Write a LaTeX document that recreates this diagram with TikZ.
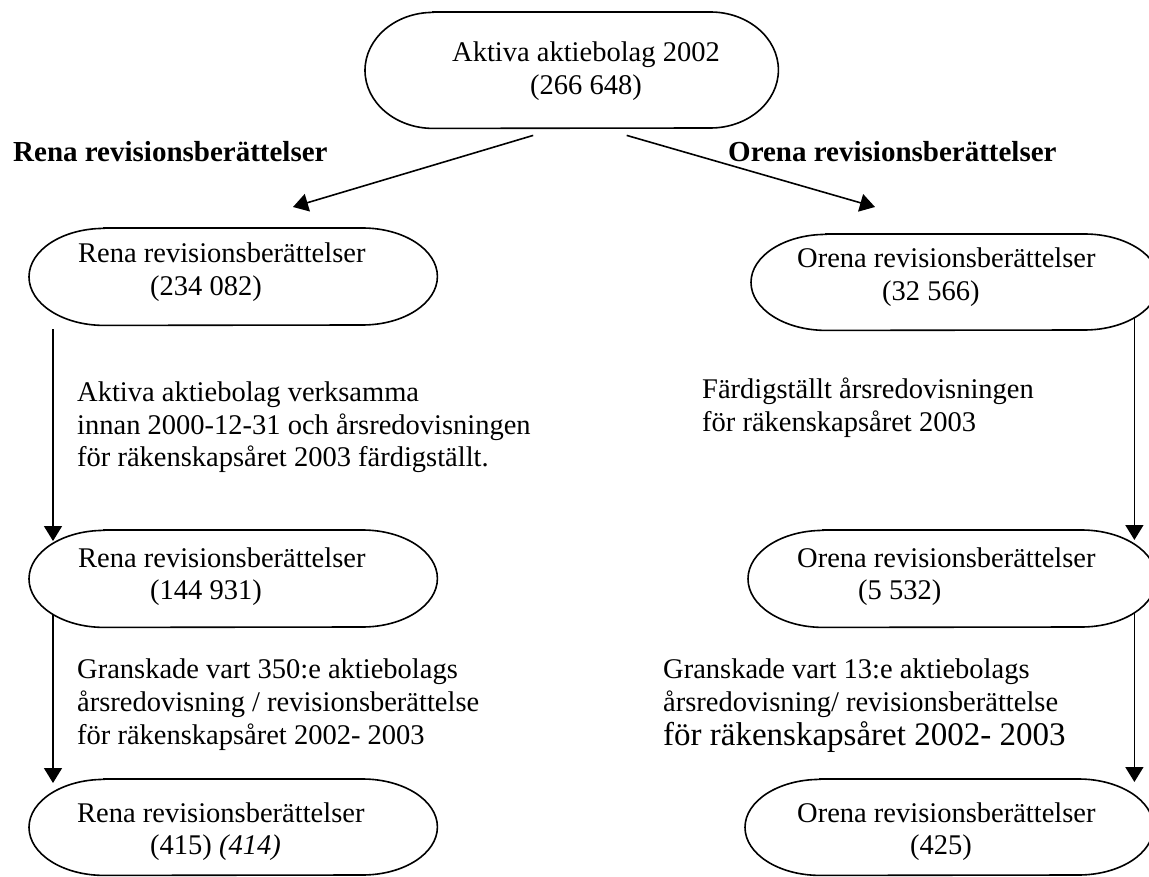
\documentclass[tikz,border=0pt]{standalone}
\usepackage{fontspec}
\setmainfont{Liberation Serif}
\usetikzlibrary{arrows.meta,calc}
\newcommand\rows[1]{\begin{tabular}[t]{@{}l@{}}#1\end{tabular}}
\newcommand\crows[1]{\begin{tabular}[t]{@{}c@{}}#1\end{tabular}}
\newcommand\termoutline[3]{%
  \draw[boxline] ([xshift=#2]#1.north west) -- ([xshift=-#2]#1.north east)
    arc[start angle=90,end angle=-90,x radius=#2,y radius=#3]
    -- ([xshift=#2]#1.south west)
    arc[start angle=270,end angle=90,x radius=#2,y radius=#3] -- cycle;}
\tikzset{
  boxline/.style={line width=1.6pt},
  termbox/.style={minimum width=408pt, minimum height=97pt, inner sep=0pt, anchor=north west},
  boxtext/.style={anchor=base west, inner sep=0pt, font=\fontsize{28.5}{32.5}\selectfont},
  desctext/.style={anchor=base west, inner sep=0pt, font=\fontsize{28.5}{33}\selectfont},
  headtext/.style={anchor=base west, inner sep=0pt, font=\fontsize{29}{32}\selectfont\bfseries},
  flow/.style={line width=1.6pt, -{Triangle[length=15pt,width=18pt]}},
}
\begin{document}
\begin{tikzpicture}[x=1pt,y=-1pt]
\clip (0,0) rectangle (1149,877);
\fill[white] (0,0) rectangle (1149,877);
% boxes
\node[termbox, minimum width=413pt, minimum height=116pt] (top) at (365,12) {};
\termoutline{top}{68pt}{58pt}
\node[termbox] (r1) at (29,228) {};
\termoutline{r1}{75pt}{48.5pt}
\node[termbox, minimum height=96pt] (o1) at (751,234) {};
\termoutline{o1}{75pt}{48pt}
\node[termbox] (r2) at (29,530) {};
\termoutline{r2}{75pt}{48.5pt}
\node[termbox] (o2) at (748,530) {};
\termoutline{o2}{75pt}{48.5pt}
\node[termbox, minimum height=96pt] (r3) at (29,779) {};
\termoutline{r3}{75pt}{48pt}
\node[termbox, minimum height=96pt] (o3) at (745,779) {};
\termoutline{o3}{75pt}{48pt}
% box texts
\node[boxtext] (toptext) at (452,62) {\crows{Aktiva aktiebolag 2002\\(266 648)}};
\node[boxtext] (r1text) at (78,263) {\rows{Rena revisionsberättelser\\\hspace*{72pt}(234 082)}};
\node[boxtext] (o1text) at (797,268) {\rows{Orena revisionsberättelser\\\hspace*{85pt}(32 566)}};
\node[boxtext] (r2text) at (78,567) {\rows{Rena revisionsberättelser\\\hspace*{72pt}(144 931)}};
\node[boxtext] (o2text) at (797,567) {\rows{Orena revisionsberättelser\\\hspace*{61pt}(5 532)}};
\node[boxtext] (r3text) at (77,822) {\rows{Rena revisionsberättelser\\\hspace*{73pt}(415) \textit{(414)}}};
\node[boxtext] (o3text) at (797,822) {\rows{Orena revisionsberättelser\\\hspace*{113pt}(425)}};
% headings
\node[headtext] (hrena) at (13,162) {Rena revisionsberättelser};
\node[headtext] (horena) at (728,162) {Orena revisionsberättelser};
% descriptions
\node[desctext] (d1) at (77,401) {\rows{Aktiva aktiebolag verksamma\\innan 2000-12-31 och årsredovisningen\\för räkenskapsåret 2003 färdigställt.}};
\node[desctext] (d2) at (702,398) {\rows{Färdigställt årsredovisningen\\för räkenskapsåret 2003}};
\node[desctext] (d3) at (77,678) {\rows{Granskade vart 350:e aktiebolags\\årsredovisning / revisionsberättelse\\för räkenskapsåret 2002- 2003}};
\node[desctext] (d4) at (663,678) {\rows{Granskade vart 13:e aktiebolags\\årsredovisning/ revisionsberättelse\\[1pt]\fontsize{33}{36}\selectfont för räkenskapsåret 2002- 2003}};
% connectors
\coordinate (tipL) at (293,207);
\coordinate (tipR) at (875,207);
\draw[flow] ([xshift=-38.5pt,yshift=-7pt]top.south) -- (tipL);
\draw[flow] ([xshift=55pt,yshift=-7pt]top.south) -- (tipR);
\draw[flow] ([xshift=24pt,yshift=-4pt]r1.south west) -- ([xshift=24pt,yshift=-11pt]r2.north west);
\draw[flow] ([xshift=24pt,yshift=13pt]r2.south west) -- ([xshift=24pt,yshift=-4pt]r3.north west);
\draw[flow] ([xshift=-25pt,yshift=12pt]o1.south east) -- ([xshift=-22pt,yshift=-10pt]o2.north east);
\draw[flow] ([xshift=-22pt,yshift=14pt]o2.south east) -- ([xshift=-19pt,yshift=-3pt]o3.north east);
\end{tikzpicture}
\end{document}
